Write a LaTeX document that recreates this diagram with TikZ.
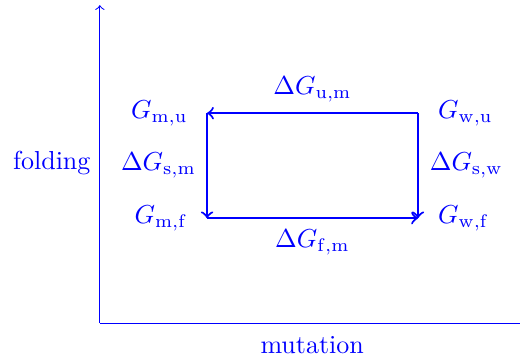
\documentclass[tikz,border=0pt]{standalone}
\usepackage{tikz}
\usetikzlibrary{positioning}
\tikzset{
	axislabel/.style={font=\normalsize\color{blue}}
}
\begin{document}
\begin{tikzpicture}[blue]

              \tikzset{
                corner/.style={
                    inner sep=0pt,
                    minimum size=0pt
                  },
                cycleedge/.style={
                    thick,
                    ->
                  }
              }

              \useasboundingbox (0,0) rectangle (7.03,4.84);

              \coordinate (o) at (1.35,0.47);
              \coordinate (ytop) at (1.35,4.77);
              \coordinate (xend) at (7.1,0.47);

              \draw[->] (o) -- (ytop);
              \draw[->] (o) -- (xend);

              \node[axislabel] (fold) at (0.70,2.64) {folding};
              \node[axislabel] (mut) at (4.22,0.18) {mutation};

              \coordinate (mu) at (2.80,3.31);
              \coordinate (wu) at (5.65,3.31);
              \coordinate (mf) at (2.80,1.89);
              \coordinate (wf) at (5.65,1.89);

              \node[left=1.4mm of mu] (lmu) {$G_{\mathrm{m,u}}$};
              \node[right=1.5mm of wu] (lwu) {$G_{\mathrm{w,u}}$};
              \node[left=1.4mm of mf] (lmf) {$G_{\mathrm{m,f}}$};
              \node[right=1.5mm of wf] (lwf) {$G_{\mathrm{w,f}}$};

              \draw[cycleedge] (wu) -- node[above=0.2mm] (dum) {$\Delta G_{\mathrm{u,m}}$} (mu);
              \draw[cycleedge] (mu) -- node[left=0.2mm] (dsm) {$\Delta G_{\mathrm{s,m}}$} (mf);
              \draw[cycleedge] (mf) -- node[below=0.3mm] (dfm) {$\Delta G_{\mathrm{f,m}}$} (wf);
              \draw[cycleedge] (wu) -- node[right=0.3mm] (dsw) {$\Delta G_{\mathrm{s,w}}$} (wf);
            \end{tikzpicture}
\end{document}
